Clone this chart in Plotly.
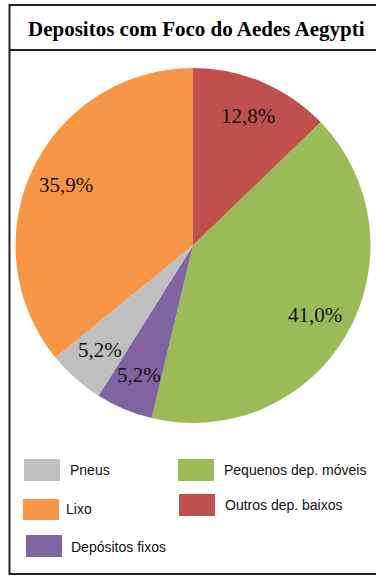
import math
import plotly.graph_objects as go

# ---- data ----
categories = ["Outros dep. baixos", "Pequenos dep. móveis", "Depósitos fixos", "Pneus", "Lixo"]
values = [12.8, 41.0, 5.2, 5.2, 35.9]
labels_txt = ["12,8%", "41,0%", "5,2%", "5,2%", "35,9%"]
colors = ["#C0504D", "#9BBB59", "#8064A2", "#BFBFBF", "#F79646"]
title = "Depositos com Foco do Aedes Aegypti"

# legend order (as in the reference)
legend_items = ["Pneus", "Pequenos dep. móveis", "Lixo", "Outros dep. baixos", "Depósitos fixos"]

W, H = 376, 578
def px(x):
    return x / W
def py(y):
    return 1 - y / H

# pie placement in pixels
pie_left, pie_right, pie_top, pie_bottom = 15, 371, 68, 423
cx = (pie_left + pie_right) / 2
cy = (pie_top + pie_bottom) / 2
R = min(pie_right - pie_left, pie_bottom - pie_top) / 2

fig = go.Figure(go.Pie(
    labels=categories,
    values=values,
    sort=False,
    direction="clockwise",
    rotation=0,
    marker=dict(colors=colors, line=dict(width=0)),
    textinfo="none",
    hoverinfo="label+percent",
    showlegend=False,
    domain=dict(x=[px(pie_left), px(pie_right)], y=[py(pie_bottom), py(pie_top)]),
))

annotations = []
# slice labels placed along each slice's mid-angle
total = sum(values)
cum = 0.0
for v, t in zip(values, labels_txt):
    mid = (cum + v / 2) / total * 2 * math.pi
    cum += v
    k = 0.79
    x = cx + k * R * math.sin(mid)
    y = cy - k * R * math.cos(mid)
    annotations.append(dict(
        x=px(x), y=py(y), xref="paper", yref="paper", text=t, showarrow=False,
        xanchor="center", yanchor="middle",
        font=dict(family="Liberation Serif", size=21, color="#111111"),
    ))

# title
annotations.append(dict(
    x=px(196.5), y=py(29), xref="paper", yref="paper", text="<b>" + title + "</b>",
    showarrow=False, xanchor="center", yanchor="middle",
    font=dict(family="Liberation Serif", size=21, color="#000000"),
))

# manual legend (swatch boxes in pixels: x0, y0, x1, y1, text x, text y)
legend_pos = {
    "Pneus": (24, 459, 60, 481, 68, 470),
    "Pequenos dep. móveis": (178, 459, 214, 481, 222, 470),
    "Lixo": (23, 499, 59, 520, 64, 509),
    "Outros dep. baixos": (179, 494, 215, 516, 223, 505),
    "Depósitos fixos": (26, 535, 62, 557, 69, 547),
}
shapes = []
for name in legend_items:
    col = colors[categories.index(name)]
    x0, y0, x1, y1, tx, ty = legend_pos[name]
    shapes.append(dict(type="rect", xref="paper", yref="paper",
                       x0=px(x0), x1=px(x1), y0=py(y1), y1=py(y0),
                       fillcolor=col, line=dict(width=0)))
    annotations.append(dict(
        x=px(tx), y=py(ty), xref="paper", yref="paper", text=name, showarrow=False,
        xanchor="left", yanchor="middle",
        font=dict(family="Liberation Sans", size=14, color="#111111"),
    ))

# frame and title separator
shapes.append(dict(type="rect", xref="paper", yref="paper",
                   x0=px(9.5), x1=px(380), y0=py(574), y1=py(5),
                   line=dict(color="#222222", width=2), fillcolor="rgba(0,0,0,0)"))
shapes.append(dict(type="line", xref="paper", yref="paper",
                   x0=px(9.5), x1=px(380), y0=py(50), y1=py(50),
                   line=dict(color="#222222", width=2)))

fig.update_layout(
    width=W, height=H,
    margin=dict(l=0, r=0, t=0, b=0),
    paper_bgcolor="white",
    plot_bgcolor="white",
    annotations=annotations,
    shapes=shapes,
)

fig.write_html("out.html",
               config={"displayModeBar": False},
               post_script="document.body.style.margin='0';document.body.style.overflow='hidden';")
